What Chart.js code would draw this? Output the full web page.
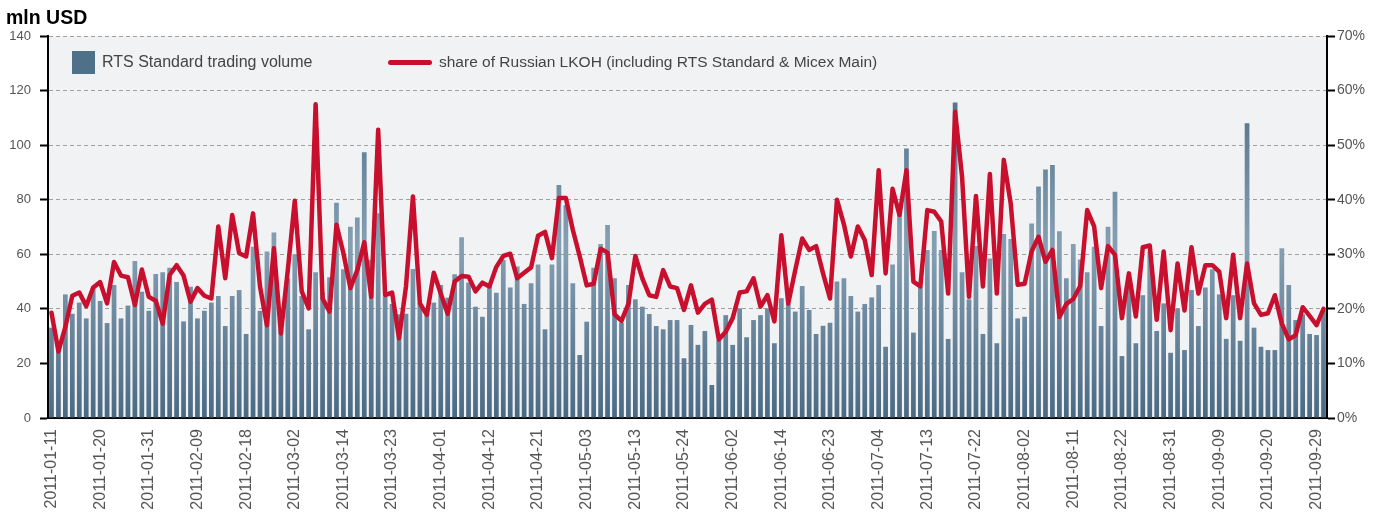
<!DOCTYPE html>
<html>
<head>
<meta charset="utf-8">
<script src="https://cdn.jsdelivr.net/npm/chart.js@4.4.1/dist/chart.umd.min.js"></script>
<style>
  html, body { margin: 0; padding: 0; background: #fff; }
  #wrap { width: 1381px; height: 517px; position: relative; }
</style>
</head>
<body>
<div id="wrap"><canvas id="chart"></canvas></div>
<script>
// dates written under the axis, one every 7 trading days
const tickLabels = ['2011-01-11', '2011-01-20', '2011-01-31', '2011-02-09', '2011-02-18', '2011-03-02',
    '2011-03-14', '2011-03-23', '2011-04-01', '2011-04-12', '2011-04-21', '2011-05-03', '2011-05-13',
    '2011-05-24', '2011-06-02', '2011-06-14', '2011-06-23', '2011-07-04', '2011-07-13', '2011-07-22',
    '2011-08-02', '2011-08-11', '2011-08-22', '2011-08-31', '2011-09-09', '2011-09-20', '2011-09-29'];

// mln USD, one per trading day
const volume = [
    33.1, 26, 45.3, 38.2, 42.3, 36.5, 47.8, 42.9, 34.8, 48.7, 36.5, 41.2, 57.5, 46.3, 39.3, 52.8, 53.4, 55.1, 49.8, 35.4, 48.1, 36.5, 39.3,
    42.3, 44.7, 33.7, 44.7, 46.9, 30.8, 62.8, 39.3, 61.0, 68.0, 32.5, 51.2, 60, 44.7, 32.5, 53.4, 46, 51.6, 78.9, 54.5, 70.1, 73.5, 97.4,
    58, 75, 44.5, 41.8, 38, 38.2, 54.6, 42.0, 40.2, 42.3, 48.7, 44.1, 52.7, 66.2, 49.7, 40.8, 37.1, 48.7, 45.9, 57.9, 47.8, 55.5, 41.8,
    49.4, 56.3, 32.5, 56.3, 85.4, 78, 49.4, 23.1, 35.3, 55.1, 63.8, 70.7, 51.2, 34.9, 48.7, 43.5, 40.8, 38.1, 33.7, 32.5, 35.9, 35.9, 21.9,
    34.1, 26.8, 31.9, 12.1, 28.6, 37.7, 26.8, 40.2, 29.6, 35.9, 37.7, 40.2, 27.4, 43.9, 41.8, 39.0, 48.4, 39.6, 30.8, 33.8, 34.9, 50, 51.2,
    44.7, 39.0, 41.8, 44.2, 48.7, 26.1, 56.3, 75, 98.8, 31.3, 48.1, 61.6, 68.5, 61.6, 29.0, 115.6, 53.4, 43.5, 63, 30.8, 58.5, 27.4, 67.4,
    65.6, 36.5, 37.1, 71.3, 84.8, 91.1, 92.7, 68.4, 51.2, 63.8, 58.1, 53.4, 62.8, 33.7, 70.1, 82.9, 22.7, 50, 27.4, 45, 61, 31.9, 42,
    23.9, 40, 24.9, 46.9, 33.7, 47.8, 54.5, 45.3, 29.0, 45, 28.3, 108.0, 33.1, 26.1, 24.9, 24.9, 62.2, 48.7, 35.9, 38, 30.8, 30.4, 39.6
];

// %, same days
const share = [
    19.3, 12.2, 16.7, 22.4, 23.0, 20.5, 23.9, 24.9, 21.0, 28.6, 26.1, 25.8, 20.7, 27.2, 22.2, 21.5, 17.3, 26.2, 28.0, 26.1, 21.3, 23.8, 22.4,
    21.9, 35.1, 25.6, 37.2, 30.2, 29.6, 37.5, 24.1, 17.0, 31.1, 15.5, 27.1, 39.8, 23.2, 20.1, 57.5, 21.9, 19.5, 35.4, 30.2, 23.8, 27.1, 32.2,
    22.2, 52.8, 22.5, 23.0, 14.6, 24.1, 40.6, 21.0, 18.9, 26.6, 22.8, 19.1, 25.0, 26.0, 25.9, 23.2, 24.8, 24.1, 27.7, 29.7, 30.1, 25.6, 26.6,
    27.6, 33.4, 34.1, 29.3, 40.3, 40.3, 34.5, 29.6, 24.3, 24.6, 31.0, 30.3, 19.0, 17.8, 20.9, 29.7, 25.6, 22.5, 22.2, 27.1, 24.1, 23.8, 19.8,
    24.3, 19.3, 20.9, 21.7, 14.4, 15.8, 18.3, 23.0, 23.2, 25.6, 20.4, 22.5, 17.7, 33.5, 21.0, 27.1, 32.9, 30.8, 31.5, 26.5, 21.9, 40.0, 35.5,
    29.6, 35.1, 32.6, 26.2, 45.4, 26.5, 42.0, 37.2, 45.4, 25.0, 24.1, 38.1, 37.8, 36.0, 22.8, 56.1, 44.2, 22.2, 40.7, 24.1, 44.7, 22.8, 47.3,
    39.3, 24.4, 24.6, 30.5, 33.2, 28.6, 30.8, 18.5, 20.9, 21.8, 24.2, 38.1, 35.1, 23.8, 31.5, 29.9, 18.3, 26.5, 18.6, 31.3, 31.6, 18.0, 30.5,
    16.1, 28.3, 19.7, 31.3, 22.8, 28.0, 28.0, 26.8, 18.3, 29.9, 18.3, 28.3, 21.0, 18.9, 19.2, 22.5, 17.3, 14.4, 15.2, 20.3, 18.7, 17.0, 20.0
];

const volumeLabel = 'RTS Standard trading volume';
const shareLabel = 'share of Russian LKOH (including RTS Standard & Micex Main)';
const unitTitle = 'mln USD';

const labels = volume.map((v, i) => (i % 7 === 0 ? tickLabels[i / 7] : ''));

const FONT = "'Liberation Sans', Arial, Helvetica, sans-serif";
const RED = '#c8102e';
const BLUE = '#4f7089';

function barGradient(context) {
    const chart = context.chart;
    const area = chart.chartArea;
    if (!area) return BLUE;
    const g = chart.ctx.createLinearGradient(0, area.top, 0, area.bottom);
    g.addColorStop(0, '#4c6c86');
    g.addColorStop(0.2, '#58788f');
    g.addColorStop(0.55, '#86a0b3');
    g.addColorStop(1, '#4a6983');
    return g;
}

// grey plot area behind everything
const plotBackground = {
    id: 'plotBackground',
    beforeDraw(chart) {
        const {ctx, chartArea: a} = chart;
        ctx.save();
        ctx.fillStyle = '#f1f2f4';
        ctx.fillRect(a.left, a.top, a.right - a.left, a.bottom - a.top);
        ctx.restore();
    }
};

// unit title and the legend inside the plot
const titleAndLegend = {
    id: 'titleAndLegend',
    afterDraw(chart) {
        const ctx = chart.ctx;
        const ds = chart.data.datasets;
        ctx.save();
        ctx.textBaseline = 'middle';
        ctx.fillStyle = '#000';
        ctx.font = 'bold 19.5px ' + FONT;
        ctx.fillText(unitTitle, 6, 19);

        ctx.fillStyle = BLUE;
        ctx.fillRect(72, 51, 23, 23);
        ctx.font = '16px ' + FONT;
        ctx.fillStyle = '#444';
        ctx.fillText(ds[0].label, 102, 62.5);

        ctx.strokeStyle = ds[1].borderColor;
        ctx.lineWidth = 5;
        ctx.lineCap = 'round';
        ctx.beginPath();
        ctx.moveTo(390.5, 62.5);
        ctx.lineTo(429.5, 62.5);
        ctx.stroke();
        ctx.font = '15.5px ' + FONT;
        ctx.fillText(ds[1].label, 439, 62.5);
        ctx.restore();
    }
};

const chart = new Chart(document.getElementById('chart').getContext('2d'), {
    data: {
        labels: labels,
        datasets: [
            {
                type: 'bar',
                label: volumeLabel,
                data: volume,
                yAxisID: 'y',
                backgroundColor: barGradient,
                barPercentage: 0.68,
                categoryPercentage: 1,
                order: 2
            },
            {
                type: 'line',
                label: shareLabel,
                data: share,
                yAxisID: 'y1',
                borderColor: RED,
                borderWidth: 4.5,
                borderJoinStyle: 'round',
                borderCapStyle: 'round',
                pointRadius: 0,
                tension: 0,
                order: 1
            }
        ]
    },
    options: {
        responsive: true,
        maintainAspectRatio: false,
        animation: false,
        layout: { padding: { top: 36, left: 0, right: 0, bottom: 0 } },
        plugins: {
            legend: { display: false },
            tooltip: { enabled: false }
        },
        scales: {
            x: {
                offset: true,
                grid: { display: false },
                border: { display: true, color: '#000', width: 2 },
                ticks: {
                    autoSkip: false,
                    maxRotation: 90,
                    minRotation: 90,
                    padding: 3,
                    color: '#555',
                    font: { family: FONT, size: 16 }
                },
                afterFit(scale) { scale.height = 99; }
            },
            y: {
                position: 'left',
                min: 0,
                max: 140,
                ticks: { stepSize: 20, padding: 9, color: '#555', font: { family: FONT, size: 13 } },
                grid: { color: '#a0a0a0', lineWidth: 1, tickColor: '#000', tickWidth: 2, tickLength: 8, tickBorderDash: [] },
                border: { display: true, color: '#000', width: 2, dash: [4, 3] },
                afterFit(scale) { scale.width = 48; }
            },
            y1: {
                position: 'right',
                min: 0,
                max: 70,
                ticks: {
                    stepSize: 10,
                    padding: 2,
                    color: '#555',
                    font: { family: FONT, size: 14 },
                    callback: v => v + '%'
                },
                grid: { drawOnChartArea: false, tickColor: '#000', tickWidth: 2, tickLength: 8 },
                border: { display: true, color: '#000', width: 2 },
                afterFit(scale) { scale.width = 54; }
            }
        }
    },
    plugins: [plotBackground, titleAndLegend]
});
</script>
</body>
</html>
